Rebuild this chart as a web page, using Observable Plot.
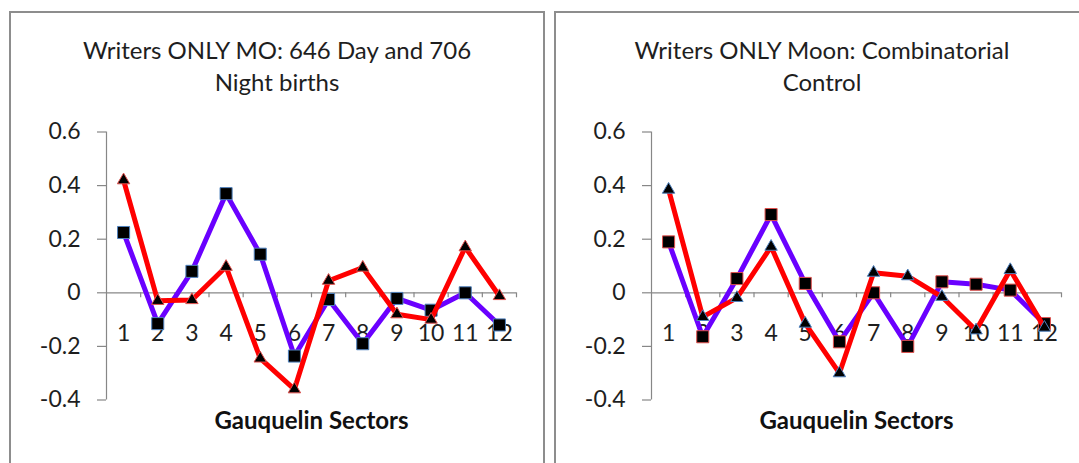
<!DOCTYPE html>
<html>
<head>
<meta charset="utf-8">
<script src="https://cdn.jsdelivr.net/npm/d3@7"></script>
<script src="https://cdn.jsdelivr.net/npm/@observablehq/plot@0.6"></script>
<style>
  html, body { margin: 0; padding: 0; background: #fff; }
  #wrap { position: relative; width: 1079px; height: 463px; overflow: hidden; background: #fff; font-family: Lato, "Open Sans", sans-serif; }
  .panel { position: absolute; top: 11px; width: 532px; height: 480px; border: 2px solid #8d8d8d; background: #fff; }
  .title { position: absolute; left: 0; right: 0; top: 21px; text-align: center; font-size: 24px; line-height: 32px; color: #1e1e1e; }
</style>
</head>
<body>
<div id="wrap"></div>
<script>
// ---- data ----
const sectors = [1, 2, 3, 4, 5, 6, 7, 8, 9, 10, 11, 12];
const yTicks = [-0.4, -0.2, 0, 0.2, 0.4, 0.6];
const yTickLabels = ["-0.4", "-0.2", "0", "0.2", "0.4", "0.6"];
const xAxisTitle = "Gauquelin Sectors";

const leftTitle = ["Writers ONLY MO: 646 Day and 706", "Night births"];
const leftSquares = [0.225, -0.115, 0.08, 0.37, 0.144, -0.236, -0.025, -0.19, -0.021, -0.065, 0, -0.12];
const leftTriangles = [0.42, -0.03, -0.027, 0.097, -0.245, -0.36, 0.045, 0.094, -0.08, -0.10, 0.17, -0.012];

const rightTitle = ["Writers ONLY Moon: Combinatorial", "Control"];
const rightSquares = [0.19, -0.164, 0.053, 0.292, 0.035, -0.183, 0, -0.20, 0.041, 0.032, 0.01, -0.115];
const rightTriangles = [0.385, -0.09, -0.019, 0.172, -0.115, -0.30, 0.075, 0.062, -0.015, -0.14, 0.085, -0.13];

// ---- styles ----
const PURPLE = "#6a00ff";
const RED = "#ff0000";
const AXIS = "#878787";
const TEXT = "#1e1e1e";
const BLUE_EDGE = "#4f81bd";
const RED_EDGE = "#e0504d";

function makePanel(left, titleLines, squares, triangles, sqEdge, triEdge) {
  const panel = document.createElement("div");
  panel.className = "panel";
  panel.style.left = left + "px";
  const t = document.createElement("div");
  t.className = "title";
  t.innerHTML = titleLines.join("<br>");
  panel.appendChild(t);

  const sq = sectors.map((s, i) => ({s, v: squares[i]}));
  const tr = sectors.map((s, i) => ({s, v: triangles[i]}));
  const bounds = sectors.map(s => s + 0.5);
  const xDomain = [0.5, 12.5];
  const yDomain = [-0.4, 0.6];
  const width = 532, marginLeft = 95, marginRight = 27;
  const height = 340, marginTop = 21.5, marginBottom = 50.5;
  const pxPerUnitY = (height - marginTop - marginBottom) / (yDomain[1] - yDomain[0]);
  const pxPerUnitX = (width - marginLeft - marginRight) / (xDomain[1] - xDomain[0]);
  const xTickLen = 5 / pxPerUnitY;
  const yTickLen = 9 / pxPerUnitX;

  const chart = Plot.plot({
    width, height, marginLeft, marginRight, marginTop, marginBottom,
    style: {fontFamily: "Lato, sans-serif", color: TEXT, background: "transparent", overflow: "visible"},
    x: {domain: xDomain, axis: null},
    y: {domain: yDomain, axis: null},
    marks: [
      // y axis
      Plot.ruleY(yTicks, {y: d => d, x1: xDomain[0], x2: xDomain[0] - yTickLen, stroke: AXIS, strokeWidth: 1.2}),
      Plot.text(yTicks, {y: d => d, frameAnchor: "left", text: (d, i) => yTickLabels[i], textAnchor: "end", dx: -26, fontSize: 23, fill: TEXT}),
      Plot.ruleX([xDomain[0]], {y1: yDomain[0], y2: yDomain[1], stroke: AXIS, strokeWidth: 1.2}),
      // x axis at zero
      Plot.ruleY([0], {x1: xDomain[0], x2: xDomain[1], stroke: AXIS, strokeWidth: 1.2}),
      Plot.ruleX(bounds, {x: d => d, y1: 0, y2: -xTickLen, stroke: AXIS, strokeWidth: 1.2}),
      Plot.text(sectors, {x: d => d, y: 0, text: d => String(d), dy: 41, fontSize: 23, fill: TEXT}),
      Plot.text([xAxisTitle], {frameAnchor: "bottom", lineAnchor: "middle", dy: 21.5, fontSize: 24, fontWeight: "bold", fill: "#111"}),
      // series
      Plot.line(sq, {x: "s", y: "v", stroke: PURPLE, strokeWidth: 5, strokeLinejoin: "round"}),
      Plot.dot(sq, {x: "s", y: "v", symbol: "square", r: 6.8, fill: "#000", stroke: sqEdge, strokeWidth: 1}),
      Plot.line(tr, {x: "s", y: "v", stroke: RED, strokeWidth: 5, strokeLinejoin: "round"}),
      Plot.dot(tr, {x: "s", y: "v", symbol: "triangle", r: 4.6, fill: "#000", stroke: triEdge, strokeWidth: 1})
    ]
  });
  chart.style.position = "absolute";
  chart.style.left = "0px";
  chart.style.top = "97px";
  panel.appendChild(chart);
  return panel;
}

const wrap = document.getElementById("wrap");
wrap.appendChild(makePanel(9, leftTitle, leftSquares, leftTriangles, BLUE_EDGE, RED_EDGE));
wrap.appendChild(makePanel(554, rightTitle, rightSquares, rightTriangles, RED_EDGE, BLUE_EDGE));
</script>
</body>
</html>
